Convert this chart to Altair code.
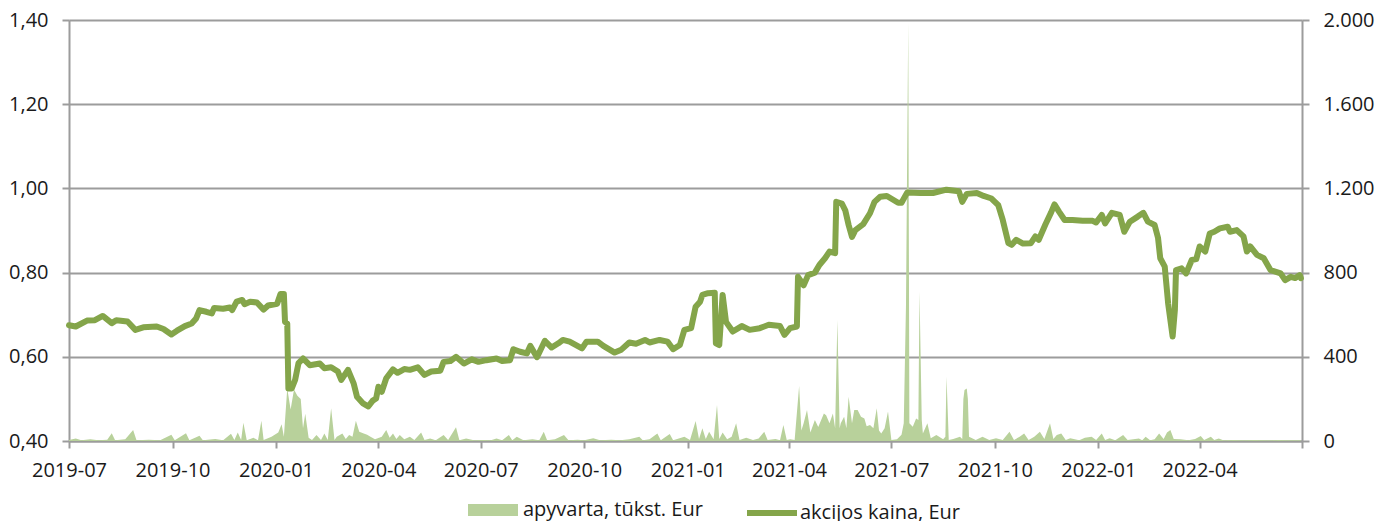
import altair as alt
import pandas as pd

# ---- share price (akcijos kaina, Eur) ----
price_dates = [
    "2019-07-01", "2019-07-07", "2019-07-17", "2019-07-24", "2019-07-31", "2019-08-08", "2019-08-12",
    "2019-08-22", "2019-08-29", "2019-09-05", "2019-09-17", "2019-09-23", "2019-09-30", "2019-10-05",
    "2019-10-12", "2019-10-18", "2019-10-22", "2019-10-25", "2019-10-31", "2019-11-05", "2019-11-07",
    "2019-11-15", "2019-11-21", "2019-11-23", "2019-11-27", "2019-12-02", "2019-12-04", "2019-12-09",
    "2019-12-15", "2019-12-21", "2019-12-25", "2020-01-02", "2020-01-05", "2020-01-08", "2020-01-09",
    "2020-01-11", "2020-01-12", "2020-01-15", "2020-01-18", "2020-01-21", "2020-01-25", "2020-01-31",
    "2020-02-09", "2020-02-13", "2020-02-19", "2020-02-25", "2020-02-28", "2020-03-05", "2020-03-10",
    "2020-03-13", "2020-03-18", "2020-03-23", "2020-03-27", "2020-03-30", "2020-04-01", "2020-04-04",
    "2020-04-08", "2020-04-14", "2020-04-18", "2020-04-24", "2020-04-29", "2020-05-06", "2020-05-12",
    "2020-05-18", "2020-05-26", "2020-05-29", "2020-06-04", "2020-06-09", "2020-06-16", "2020-06-23",
    "2020-06-29", "2020-07-06", "2020-07-15", "2020-07-20", "2020-07-27", "2020-07-30", "2020-08-05",
    "2020-08-11", "2020-08-14", "2020-08-20", "2020-08-27", "2020-09-02", "2020-09-08", "2020-09-12",
    "2020-09-18", "2020-09-29", "2020-10-03", "2020-10-13", "2020-10-18", "2020-10-28", "2020-11-03",
    "2020-11-10", "2020-11-16", "2020-11-24", "2020-11-28", "2020-12-07", "2020-12-14", "2020-12-19",
    "2020-12-25", "2020-12-29", "2021-01-04", "2021-01-08", "2021-01-12", "2021-01-14", "2021-01-19",
    "2021-01-25", "2021-01-26", "2021-01-29", "2021-02-01", "2021-02-04", "2021-02-10", "2021-02-18",
    "2021-02-25", "2021-03-06", "2021-03-14", "2021-03-24", "2021-03-28", "2021-04-02", "2021-04-08",
    "2021-04-09", "2021-04-14", "2021-04-18", "2021-04-24", "2021-04-28", "2021-05-03", "2021-05-07",
    "2021-05-12", "2021-05-13", "2021-05-18", "2021-05-21", "2021-05-24", "2021-05-27", "2021-05-30",
    "2021-06-06", "2021-06-12", "2021-06-16", "2021-06-21", "2021-06-27", "2021-07-07", "2021-07-10",
    "2021-07-15", "2021-07-27", "2021-08-07", "2021-08-19", "2021-08-30", "2021-09-02", "2021-09-06",
    "2021-09-15", "2021-09-21", "2021-09-28", "2021-10-04", "2021-10-08", "2021-10-13", "2021-10-16",
    "2021-10-20", "2021-10-26", "2021-11-02", "2021-11-06", "2021-11-09", "2021-11-15", "2021-11-20",
    "2021-11-23", "2021-11-27", "2021-12-02", "2021-12-09", "2021-12-18", "2021-12-27", "2021-12-30",
    "2022-01-04", "2022-01-07", "2022-01-13", "2022-01-20", "2022-01-24", "2022-01-29", "2022-02-05",
    "2022-02-10", "2022-02-14", "2022-02-20", "2022-02-23", "2022-02-25", "2022-03-01", "2022-03-04",
    "2022-03-08", "2022-03-10", "2022-03-11", "2022-03-16", "2022-03-20", "2022-03-25", "2022-03-29",
    "2022-04-01", "2022-04-06", "2022-04-10", "2022-04-14", "2022-04-19", "2022-04-26", "2022-04-28",
    "2022-05-04", "2022-05-10", "2022-05-13", "2022-05-16", "2022-05-22", "2022-05-28", "2022-06-03",
    "2022-06-12", "2022-06-16", "2022-06-21", "2022-06-25", "2022-06-29", "2022-06-30",
]
price_values = [
    0.675, 0.672, 0.686, 0.687, 0.697, 0.680, 0.687,
    0.684, 0.664, 0.670, 0.672, 0.666, 0.653, 0.662,
    0.673, 0.679, 0.691, 0.711, 0.707, 0.703, 0.716,
    0.714, 0.717, 0.711, 0.731, 0.735, 0.725, 0.731,
    0.729, 0.712, 0.722, 0.726, 0.749, 0.749, 0.683,
    0.679, 0.525, 0.525, 0.545, 0.585, 0.596, 0.580,
    0.584, 0.573, 0.575, 0.565, 0.545, 0.569, 0.537,
    0.505, 0.490, 0.482, 0.496, 0.501, 0.529, 0.517,
    0.549, 0.570, 0.562, 0.571, 0.569, 0.575, 0.557,
    0.565, 0.567, 0.588, 0.590, 0.600, 0.584, 0.594,
    0.588, 0.592, 0.596, 0.590, 0.592, 0.618, 0.612,
    0.608, 0.626, 0.599, 0.638, 0.622, 0.632, 0.640,
    0.636, 0.620, 0.636, 0.636, 0.626, 0.610, 0.617,
    0.634, 0.631, 0.640, 0.634, 0.640, 0.636, 0.618,
    0.628, 0.664, 0.668, 0.719, 0.731, 0.747, 0.751,
    0.752, 0.632, 0.628, 0.747, 0.683, 0.660, 0.673,
    0.664, 0.668, 0.676, 0.673, 0.652, 0.668, 0.672,
    0.790, 0.770, 0.794, 0.800, 0.818, 0.834, 0.850,
    0.846, 0.968, 0.964, 0.948, 0.913, 0.885, 0.901,
    0.915, 0.941, 0.968, 0.980, 0.982, 0.966, 0.966,
    0.990, 0.989, 0.989, 0.997, 0.993, 0.968, 0.987,
    0.989, 0.982, 0.976, 0.960, 0.925, 0.870, 0.866,
    0.878, 0.869, 0.870, 0.886, 0.878, 0.915, 0.943,
    0.962, 0.945, 0.925, 0.925, 0.923, 0.923, 0.919,
    0.937, 0.917, 0.942, 0.937, 0.897, 0.921, 0.933,
    0.942, 0.921, 0.913, 0.883, 0.834, 0.814, 0.727,
    0.648, 0.711, 0.806, 0.810, 0.798, 0.830, 0.832,
    0.862, 0.850, 0.893, 0.897, 0.905, 0.909, 0.897,
    0.901, 0.886, 0.850, 0.862, 0.842, 0.834, 0.806,
    0.798, 0.782, 0.790, 0.787, 0.794, 0.787,
]

# ---- turnover (apyvarta, tukst. Eur) ----
vol_dates = [
    "2019-07-01", "2019-07-07", "2019-07-12", "2019-07-20", "2019-07-27", "2019-08-04", "2019-08-08",
    "2019-08-11", "2019-08-20", "2019-08-27", "2019-08-30", "2019-09-10", "2019-09-20", "2019-09-30",
    "2019-10-03", "2019-10-13", "2019-10-16", "2019-10-25", "2019-10-28", "2019-11-08", "2019-11-15",
    "2019-11-22", "2019-11-25", "2019-11-28", "2019-12-01", "2019-12-03", "2019-12-06", "2019-12-12",
    "2019-12-16", "2019-12-19", "2019-12-21", "2019-12-28", "2020-01-03", "2020-01-06", "2020-01-08",
    "2020-01-11", "2020-01-14", "2020-01-17", "2020-01-20", "2020-01-23", "2020-01-25", "2020-01-27",
    "2020-01-30", "2020-02-02", "2020-02-06", "2020-02-10", "2020-02-13", "2020-02-16", "2020-02-19",
    "2020-02-22", "2020-02-24", "2020-02-29", "2020-03-03", "2020-03-06", "2020-03-09", "2020-03-12",
    "2020-03-15", "2020-03-19", "2020-03-22", "2020-03-25", "2020-03-29", "2020-04-04", "2020-04-08",
    "2020-04-11", "2020-04-14", "2020-04-17", "2020-04-20", "2020-04-24", "2020-04-29", "2020-05-03",
    "2020-05-09", "2020-05-12", "2020-05-17", "2020-05-22", "2020-05-29", "2020-06-02", "2020-06-09",
    "2020-06-12", "2020-06-18", "2020-06-25", "2020-07-03", "2020-07-10", "2020-07-15", "2020-07-20",
    "2020-07-26", "2020-07-29", "2020-08-02", "2020-08-08", "2020-08-16", "2020-08-22", "2020-08-26",
    "2020-08-29", "2020-09-05", "2020-09-13", "2020-09-17", "2020-09-25", "2020-10-01", "2020-10-09",
    "2020-10-15", "2020-10-25", "2020-11-02", "2020-11-10", "2020-11-19", "2020-11-22", "2020-11-28",
    "2020-12-05", "2020-12-08", "2020-12-16", "2020-12-19", "2020-12-29", "2021-01-03", "2021-01-08",
    "2021-01-11", "2021-01-14", "2021-01-17", "2021-01-20", "2021-01-24", "2021-01-27", "2021-01-29",
    "2021-02-01", "2021-02-05", "2021-02-09", "2021-02-13", "2021-02-16", "2021-02-22", "2021-02-28",
    "2021-03-05", "2021-03-10", "2021-03-13", "2021-03-20", "2021-03-24", "2021-03-27", "2021-03-30",
    "2021-04-02", "2021-04-06", "2021-04-10", "2021-04-12", "2021-04-14", "2021-04-17", "2021-04-20",
    "2021-04-24", "2021-04-27", "2021-05-02", "2021-05-04", "2021-05-07", "2021-05-10", "2021-05-12",
    "2021-05-14", "2021-05-16", "2021-05-17", "2021-05-20", "2021-05-22", "2021-05-24", "2021-05-27",
    "2021-05-29", "2021-06-01", "2021-06-04", "2021-06-07", "2021-06-09", "2021-06-12", "2021-06-15",
    "2021-06-18", "2021-06-20", "2021-06-22", "2021-06-25", "2021-06-28", "2021-07-01", "2021-07-06",
    "2021-07-10", "2021-07-12", "2021-07-14", "2021-07-16", "2021-07-17", "2021-07-20", "2021-07-23",
    "2021-07-25", "2021-07-26", "2021-07-28", "2021-07-29", "2021-08-02", "2021-08-05", "2021-08-10",
    "2021-08-16", "2021-08-18", "2021-08-19", "2021-08-21", "2021-08-25", "2021-08-31", "2021-09-02",
    "2021-09-03", "2021-09-04", "2021-09-06", "2021-09-07", "2021-09-08", "2021-09-14", "2021-09-20",
    "2021-09-26", "2021-10-02", "2021-10-08", "2021-10-14", "2021-10-18", "2021-10-23", "2021-10-27",
    "2021-10-31", "2021-11-05", "2021-11-10", "2021-11-14", "2021-11-19", "2021-11-22", "2021-11-25",
    "2021-11-29", "2021-12-03", "2021-12-07", "2021-12-15", "2021-12-20", "2021-12-26", "2021-12-30",
    "2022-01-04", "2022-01-07", "2022-01-11", "2022-01-16", "2022-01-23", "2022-01-27", "2022-02-06",
    "2022-02-09", "2022-02-12", "2022-02-16", "2022-02-20", "2022-02-24", "2022-02-28", "2022-03-03",
    "2022-03-06", "2022-03-09", "2022-03-15", "2022-03-22", "2022-03-28", "2022-04-02", "2022-04-05",
    "2022-04-11", "2022-04-14", "2022-04-18", "2022-04-22", "2022-05-01", "2022-05-10", "2022-05-20",
    "2022-06-01", "2022-06-10", "2022-06-20", "2022-06-30",
]
vol_values = [
    5, 12, 3, 8, 3, 6, 37,
    3, 8, 52, 3, 6, 3, 30,
    3, 37, 3, 25, 3, 10, 4,
    35, 5, 40, 5, 87, 4, 15,
    4, 96, 5, 20, 40, 80, 20,
    250, 150, 245, 215, 200, 60, 130,
    15, 5, 28, 5, 36, 5, 155,
    5, 20, 36, 10, 28, 20, 96,
    44, 36, 30, 20, 8, 20, 52,
    15, 36, 10, 28, 8, 20, 5,
    40, 5, 12, 4, 28, 5, 65,
    4, 12, 3, 5, 3, 12, 3,
    28, 3, 20, 3, 8, 3, 44,
    3, 8, 28, 3, 6, 3, 13,
    3, 6, 3, 8, 20, 3, 8,
    36, 3, 33, 4, 20, 5, 95,
    10, 60, 10, 44, 8, 171, 10,
    40, 8, 20, 84, 5, 15, 5,
    12, 44, 5, 10, 3, 76, 5,
    8, 5, 261, 50, 84, 147, 40,
    100, 67, 131, 122, 84, 131, 60,
    575, 60, 84, 115, 60, 210, 84,
    147, 147, 115, 107, 70, 76, 60,
    155, 50, 36, 60, 140, 5, 8,
    30, 84, 650, 1990, 84, 68, 107,
    100, 710, 100, 36, 84, 13, 28,
    8, 20, 305, 5, 10, 20, 10,
    200, 242, 250, 200, 20, 5, 20,
    5, 13, 5, 44, 5, 20, 36,
    5, 20, 44, 10, 84, 10, 28,
    36, 5, 13, 4, 15, 20, 5,
    36, 5, 13, 4, 28, 5, 12,
    3, 20, 4, 8, 36, 10, 40,
    52, 10, 8, 4, 10, 24, 5,
    20, 5, 12, 3, 5, 3, 5,
    3, 5, 3, 4,
]

price_name = "akcijos kaina, Eur"
vol_name = "apyvarta, tūkst. Eur"
price_ticks = [0.4, 0.6, 0.8, 1.0, 1.2, 1.4]
vol_ticks = [0, 400, 800, 1200, 1600, 2000]
tick_months = [(2019, 7), (2019, 10), (2020, 1), (2020, 4), (2020, 7), (2020, 10), (2021, 1),
               (2021, 4), (2021, 7), (2021, 10), (2022, 1), (2022, 4), (2022, 7)]

LINE = "#84a54a"
AREA = "#b8d19b"
GRID = "#9c9c9c"
FONT = "Open Sans"
FS = 20

price_df = pd.DataFrame({"date": price_dates, "price": price_values, "series": price_name})
vol_df = pd.DataFrame({"date": vol_dates, "vol": vol_values, "series": vol_name})

x_enc = alt.X(
    "date:T",
    scale=alt.Scale(type="utc", domain=[alt.DateTime(year=2019, month=7, date=1, utc=True),
                                        alt.DateTime(year=2022, month=7, date=1, utc=True)]),
    axis=alt.Axis(
        values=[alt.DateTime(year=y, month=m, date=1, utc=True) for y, m in tick_months],
        labelExpr="(utcyear(datum.value) == 2022 && utcmonth(datum.value) == 6) ? '' : utcFormat(datum.value, '%Y-%m')",
        title=None, grid=False, domainColor=GRID, domainWidth=2, tickColor=GRID, tickWidth=2,
        tickSize=7, labelFontSize=FS, labelFont=FONT, labelColor="#1a1a1a", labelPadding=12,
        labelFlush=False, labelOverlap=False,
    ),
)

area = alt.Chart(vol_df).mark_area(interpolate="linear").encode(
    x=x_enc,
    y=alt.Y("vol:Q", scale=alt.Scale(domain=[0, 2000], nice=False),
            axis=alt.Axis(orient="right", values=vol_ticks, grid=False, title=None,
                          labelExpr="replace(format(datum.value, ','), ',', '.')",
                          domainColor=GRID, domainWidth=2, tickColor=GRID, tickWidth=2, tickSize=7,
                          labelFontSize=FS, labelFont=FONT, labelColor="#1a1a1a", labelPadding=14)),
    fill=alt.Fill("series:N", scale=alt.Scale(domain=[vol_name], range=[AREA]),
                  legend=alt.Legend(orient="none", legendX=399, legendY=465, title=None, padding=0,
                                    symbolType="M-1,-0.24L1,-0.24L1,0.24L-1,0.24Z", symbolSize=2500,
                                    symbolStrokeWidth=0, symbolOpacity=1, labelOffset=5,
                                    labelLimit=500, labelFontSize=FS, labelFont=FONT,
                                    labelColor="#1a1a1a")),
)

line = alt.Chart(price_df).mark_line(strokeWidth=6, strokeJoin="round", strokeCap="round").encode(
    x=x_enc,
    y=alt.Y("price:Q", scale=alt.Scale(domain=[0.4, 1.4], nice=False),
            axis=alt.Axis(orient="left", values=price_ticks, grid=True, gridColor=GRID, gridWidth=2,
                          title=None, labelExpr="replace(format(datum.value, '.2f'), '.', ',')",
                          domainColor=GRID, domainWidth=2, tickColor=GRID, tickWidth=2, tickSize=7,
                          labelFontSize=FS, labelFont=FONT, labelColor="#1a1a1a", labelPadding=14)),
    stroke=alt.Stroke("series:N", scale=alt.Scale(domain=[price_name], range=[LINE]),
                      legend=alt.Legend(orient="none", legendX=675, legendY=465, title=None, padding=0,
                                        symbolType="stroke", symbolSize=2500, symbolStrokeWidth=6,
                                        labelOffset=0, labelLimit=500, labelFontSize=FS, labelFont=FONT,
                                        labelColor="#1a1a1a")),
)

chart = alt.layer(area, line).resolve_scale(y="independent", fill="independent", stroke="independent").properties(
    width=1233, height=421,
    autosize=alt.AutoSizeParams(type="none"),
    padding={"left": 61, "top": 12, "right": 80, "bottom": 80},
).configure_view(stroke=None).configure(background="white")

chart.save("out.html", embed_options={"renderer": "svg", "actions": False})
